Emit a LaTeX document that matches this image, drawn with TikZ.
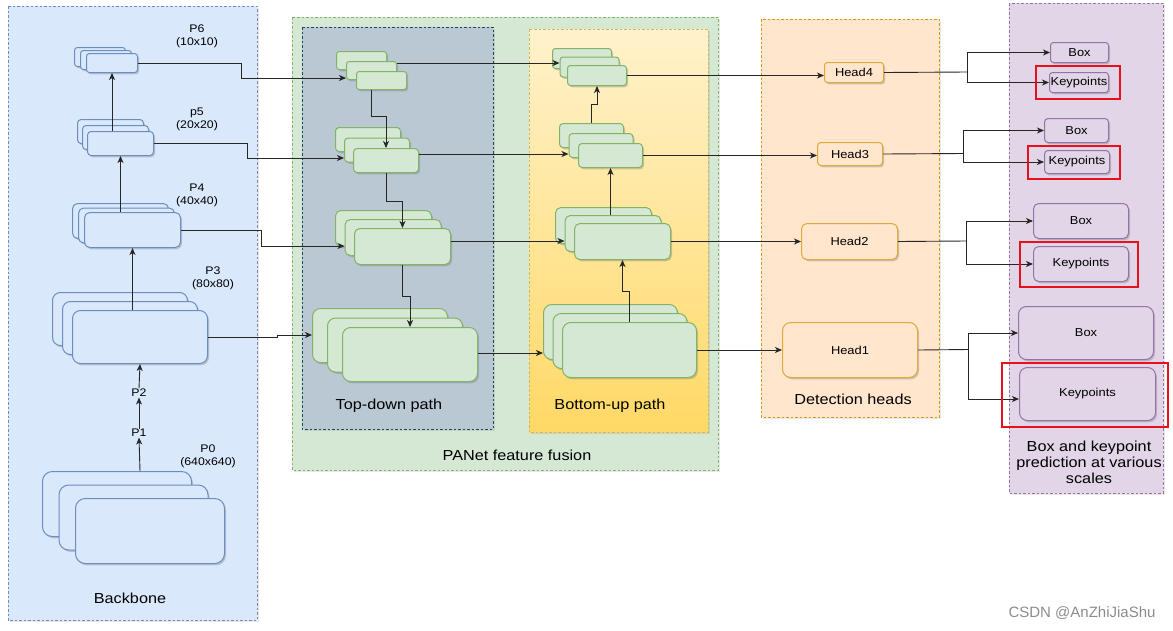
\documentclass[tikz,border=0pt]{standalone}
\usepackage{fontspec}
\setmainfont{Liberation Sans}[FakeStretch=1.12]
\newfontfamily\wmfont{Liberation Sans}
\usetikzlibrary{arrows.meta,shadows}
\definecolor{bbFill}{HTML}{DAE8FC}
\definecolor{bbLine}{HTML}{6C8EBF}
\definecolor{gFill}{HTML}{D5E8D4}
\definecolor{gLine}{HTML}{82B366}
\definecolor{tdFill}{HTML}{BAC8D3}
\definecolor{tdLine}{HTML}{23445D}
\definecolor{yTop}{HTML}{FFF2CC}
\definecolor{yBot}{HTML}{FFD966}
\definecolor{yLine}{HTML}{D6B656}
\definecolor{oFill}{HTML}{FFE6CC}
\definecolor{oLine}{HTML}{D79B00}
\definecolor{hLine}{HTML}{E0A93A}
\definecolor{pFill}{HTML}{E1D5E7}
\definecolor{pLine}{HTML}{9673A6}
\definecolor{hlRed}{HTML}{E8101A}
\newcommand\mystack[8]{%
  \node[#8, minimum width=#4pt, minimum height=#5pt, rounded corners={0.15*#5pt}, anchor=north west] (#1a) at ({#2-2*#6},{#3-2*#7}) {};
  \node[#8, minimum width=#4pt, minimum height=#5pt, rounded corners={0.15*#5pt}, anchor=north west] (#1b) at ({#2-#6},{#3-#7}) {};
  \node[#8, minimum width=#4pt, minimum height=#5pt, rounded corners={0.15*#5pt}, anchor=north west] (#1c) at (#2,#3) {};
}
\newcommand\mybox[7]{% name, x, y, w, h, style, text
  \node[#6, minimum width=#4pt, minimum height=#5pt, rounded corners={0.15*#5pt}, anchor=north west] (#1) at (#2,#3) {#7};
}
\begin{document}
\begin{tikzpicture}[x=1pt,y=-1pt,
  shad/.style={drop shadow={shadow xshift=1.5pt,shadow yshift=-1.8pt,opacity=0.3,fill=black!60}},
  cshad/.style={drop shadow={shadow xshift=2pt,shadow yshift=-2pt,opacity=0.15,fill=black!60}},
  cont/.style={line width=0.8pt, dash pattern=on 2.5pt off 2pt, cshad},
  bstack/.style={draw=bbLine, fill=bbFill, line width=1pt, inner sep=0, shad},
  gstack/.style={draw=gLine, fill=gFill, line width=1pt, inner sep=0, shad},
  headbox/.style={draw=hLine, fill=oFill, line width=1pt, inner sep=0, shad, font=\fontsize{11.5}{13}\selectfont},
  predbox/.style={draw=pLine, fill=pFill, line width=1pt, inner sep=0, shad, font=\fontsize{11.5}{13}\selectfont},
  lbl/.style={inner sep=0.5pt, font=\fontsize{11}{13}\selectfont, align=center},
  big/.style={inner sep=0, font=\fontsize{14.5}{16}\selectfont, align=center},
  arr/.style={draw=black!85, line width=0.9pt, -{Stealth[length=7pt,width=6pt,inset=2pt]}},
  hilite/.style={draw=hlRed, line width=2pt}
]
\useasboundingbox (0,0) rectangle (1173,630);
% containers
\draw[cont, fill=bbFill, draw=bbLine] (8,6) rectangle (257,620);
\draw[cont, fill=gFill, draw=gLine] (292,17) rectangle (718,470);
\draw[cont, fill=tdFill, draw=tdLine] (302,27) rectangle (493,429);
\draw[cont, top color=yTop, bottom color=yBot, draw=yLine] (529,29) rectangle (708,432);
\draw[cont, fill=oFill, draw=oLine] (761,19) rectangle (939,417);
\draw[cont, fill=pFill, draw=pLine] (1009,3) rectangle (1163,493);
% container labels
\node[big] (tBackbone) at (130,598) {Backbone};
\node[big] (tTop) at (389,406) {Top-down path};
\node[big] (tBot) at (610,406) {Bottom-up path};
\node[big] (tPanet) at (517,455) {PANet feature fusion};
\node[big] (tDet) at (853,399) {Detection heads};
\node[big] (tPred) at (1089,462) {Box and keypoint\\prediction at various\\scales};
% backbone labels
\node[lbl] (lP6) at (197,36) {P6\\(10x10)};
\node[lbl] (lP5) at (197,119) {p5\\(20x20)};
\node[lbl] (lP4) at (197,195) {P4\\(40x40)};
\node[lbl] (lP3) at (213,278.5) {P3\\(80x80)};
\node[lbl] (lP0) at (208,456.5) {P0\\(640x640)};
\node[lbl] (lP2) at (139,393) {P2};
\node[lbl] (lP1) at (139,433) {P1};
% stacks
\mystack{p6}{86}{53}{51}{19}{6}{3}{bstack}
\mystack{p5}{87}{131}{66}{24}{5}{6}{bstack}
\mystack{p4}{84}{212}{96}{35}{6}{4.5}{bstack}
\mystack{p3}{72}{310}{135}{53}{10}{9}{bstack}
\mystack{p0}{75}{498}{149}{65}{16.5}{13.5}{bstack}
\mystack{td1}{356}{71}{50}{18}{10}{10}{gstack}
\mystack{td2}{353}{148}{65}{24}{9}{10.5}{gstack}
\mystack{td3}{354}{228}{96}{36}{9.5}{9}{gstack}
\mystack{td4}{342}{327}{135}{54}{15}{9.5}{gstack}
\mystack{bu1}{567}{65}{59}{20}{7.5}{8.5}{gstack}
\mystack{bu2}{578}{143}{64}{24}{9.5}{10}{gstack}
\mystack{bu3}{574}{223}{96}{36}{9.5}{8}{gstack}
\mystack{bu4}{562}{322}{134}{55}{9.5}{9}{gstack}
% heads
\mybox{head4}{824}{62}{59}{20}{headbox}{Head4}
\mybox{head3}{817}{142}{65}{23}{headbox}{Head3}
\mybox{head2}{801}{223}{96}{36}{headbox}{Head2}
\mybox{head1}{782}{322}{135}{55}{headbox}{Head1}
% predictions
\mybox{box4}{1050}{42}{58}{20}{predbox}{Box}
\mybox{kp4}{1049}{72}{59}{20}{predbox}{Keypoints}
\mybox{box3}{1044}{118}{64}{24}{predbox}{Box}
\mybox{kp3}{1044}{150}{65}{23}{predbox}{Keypoints}
\mybox{box2}{1033}{203}{95}{35}{predbox}{Box}
\mybox{kp2}{1033}{246}{95}{35}{predbox}{Keypoints}
\mybox{box1}{1018}{306}{135}{53}{predbox}{Box}
\mybox{kp1}{1019}{367}{136}{53}{predbox}{Keypoints}
% backbone connectors
\draw[arr] (p3c.south |- p0a.north) -- (lP1.south);
\draw[arr] (lP1.north) -- (lP2.south);
\draw[arr] (lP2.north) -- (p3c.south);
\draw[arr] (p4c.south |- p3c.north) -- (p4c.south);
\draw[arr] (p5c.south |- p4c.north) -- (p5c.south);
\draw[arr] (p6c.south |- p5c.north) -- (p6c.south);
% backbone -> top-down
\draw[arr] (p6c.east) -| (241,78) -- (td1b.west |- 0,78);
\draw[arr] (p5c.east) -| (247,158) -- (td2b.west |- 0,158);
\draw[arr] (p4c.east) -| (261,246) -- (td3b.west |- 0,246);
\draw[arr] (p3c.east) -| (277,335) -- (td4a.west |- 0,335);
% top-down chain
\draw[arr] (td1b.south |- td1c.south) -- ++(0,26) -| (td2c.north);
\draw[arr] (td2c.south) -- ++(0,28) -| (td3c.north);
\draw[arr] (td3c.south) -- ++(0,31) -| (td4c.north);
% top-down -> bottom-up
\draw[arr] (td1b.east |- 0,63) -- (bu1b.west |- 0,63);
\draw[arr] (td2c.east |- 0,154) -- (bu2b.west |- 0,154);
\draw[arr] (td3c.east |- 0,241) -- (bu3b.west |- 0,241);
\draw[arr] (td4c.east |- 0,353) -- (bu4a.west |- 0,353);
% bottom-up chain
\draw[arr] (bu4c.north) -- ++(0,-31) -| (bu3c.south);
\draw[arr] (bu2c.south |- bu3b.north) -- (bu2c.south);
\draw[arr] (bu2a.north) -- ++(0,-19) -| (bu1c.south);
% bottom-up -> heads
\draw[arr] (bu1c.east) -- (head4.west |- bu1c.east);
\draw[arr] (bu2c.east) -- (head3.west |- bu2c.east);
\draw[arr] (bu3c.east) -- (head2.west |- bu3c.east);
\draw[arr] (bu4c.east) -- (head1.west |- bu4c.east);
% heads -> predictions
\coordinate (j4) at (967,72);
\coordinate (j3) at (963,153.5);
\coordinate (j2) at (966,241);
\coordinate (j1) at (968,349.5);
\draw[draw=black!85, line width=0.9pt] (head4.east) -- (j4);
\draw[arr] (j4) |- (box4.west);
\draw[arr] (j4) |- (kp4.west);
\draw[draw=black!85, line width=0.9pt] (head3.east) -- (j3);
\draw[arr] (j3) |- (box3.west);
\draw[arr] (j3) |- (kp3.west);
\draw[draw=black!85, line width=0.9pt] (head2.east) -- (j2);
\draw[arr] (j2) |- (box2.west);
\draw[arr] (j2) |- (kp2.west);
\draw[draw=black!85, line width=0.9pt] (head1.east) -- (j1);
\draw[arr] (j1) |- (box1.west);
\draw[arr] (j1) |- ([yshift=-5pt]kp1.west);
% highlight boxes
\draw[hilite] (1036,66) rectangle (1120,99);
\draw[hilite] (1028,146) rectangle (1120,179);
\draw[hilite] (1020,242) rectangle (1138,287);
\draw[hilite] (1002,363) rectangle (1168,427);
% watermark
\node[inner sep=0, text=black!45, font=\wmfont\fontsize{15}{17}\selectfont] (wm) at (1082,613) {CSDN @AnZhiJiaShu};
\end{tikzpicture}
\end{document}
